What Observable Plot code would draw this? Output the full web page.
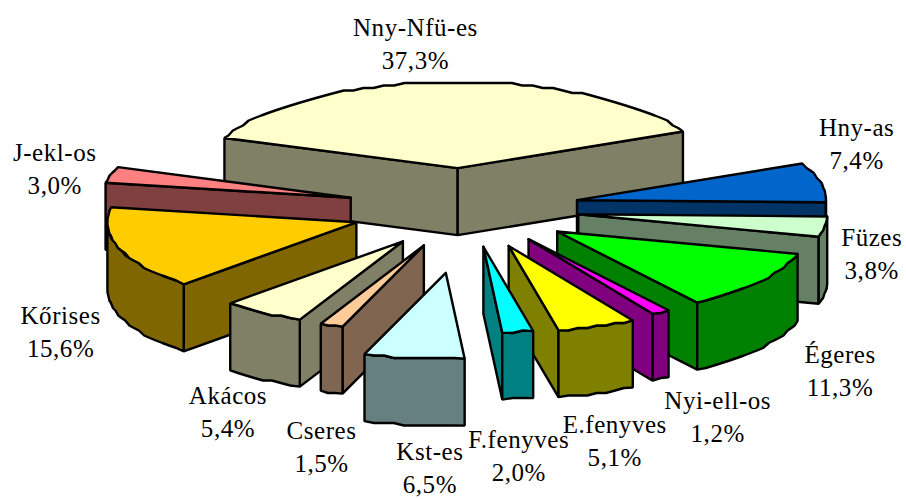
<!DOCTYPE html>
<html><head><meta charset="utf-8">
<style>html,body{margin:0;padding:0;background:#fff}svg{display:block}svg text{letter-spacing:.55px}</style>
<script src="https://cdn.jsdelivr.net/npm/d3@7"></script>
<script src="https://cdn.jsdelivr.net/npm/@observablehq/plot@0.6"></script>
</head><body><div id="chart"></div>
<script>
const names = ["Nny-Nfü-es","Hny-as","Füzes","Égeres","Nyi-ell-os","E.fenyves","F.fenyves","Kst-es","Cseres","Akácos","Kőrises","J-ekl-os"];
const shares = [37.3,7.4,3.8,11.3,1.2,5.1,2.0,6.5,1.5,5.4,15.6,3.0];
const topColors = ["#FFFFCC","#0066CC","#CCFFCC","#00FF00","#FF00FF","#FFFF00","#00FFFF","#CCFFFF","#FFCC99","#FFFFCC","#FFCC00","#FF8080"];
const sideColors = ["#808066","#003366","#668066","#008000","#800080","#808000","#008080","#668080","#806650","#808066","#806600","#804040"];
const explode = [117,117,117,115,115,122,115,185,115,115,120,117];
const drift = [[-1,0],[-1,0],[-1,0],[0,0],[4,-3],[2,-2],[4,-1],[6,1],[3,0],[4,0],[7,1],[0,0]];
const drawOrder = [0,1,11,2,10,3,9,4,8,5,7,6];
// label centre relative to the middle of each slice's outer arc
const labelNudge = [[-32,-40],[36,-40],[47,25],[80,88],[57,103],[18,113],[1,122],[16,108],[-10,120],[-35,97],[-59,81],[-56,-8]];

const W = 906, H = 499, cx = 463, cy = 208, rx = 249, ry = 86, depth = 67, startAngle = -69.5;
const rad = d => d * Math.PI / 180;
const snap = v => Math.round(v / 2.5) * 2.5;
const faces = [], labels = [];
let acc = startAngle;
const spans = shares.map(v => { const s = acc; acc += v * 3.6; return [s, acc]; });
drawOrder.forEach(i => {
  const [s, e] = spans[i], m = (s + e) / 2;
  const ox = cx + explode[i] * Math.sin(rad(m)) + drift[i][0];
  const oy = cy - explode[i] * Math.cos(rad(m)) * ry / rx + drift[i][1];
  const pt = (a, dz = 0) => ({x: ox + rx * Math.sin(rad(a)), y: oy - ry * Math.cos(rad(a)) + dz});
  const arc = (a0, a1, dz = 0) => {
    const n = Math.max(1, Math.ceil((a1 - a0) / 2.5));
    return d3.range(n + 1).map(k => {
      const p = pt(a0 + (a1 - a0) * k / n, dz);
      return k === 0 || k === n ? p : {x: p.x, y: snap(p.y)};
    });
  };
  const add = (poly, fill, key) => [...poly, poly[0]].forEach(p => faces.push({...p, fill, key: i + key}));
  const apex = {x: ox, y: oy}, apexLow = {x: ox, y: oy + depth};
  if (Math.sin(rad(s)) < 0) add([apex, pt(s), pt(s, depth), apexLow], sideColors[i], "s");
  if (Math.sin(rad(e)) > 0) add([apex, pt(e), pt(e, depth), apexLow], sideColors[i], "e");
  const a0 = Math.max(s, 90), a1 = Math.min(e, 270);
  if (a1 > a0) add([...arc(a0, a1), ...arc(a0, a1, depth).reverse()], sideColors[i], "o");
  add([apex, ...arc(s, e)], topColors[i], "t");
  const mid = pt(m);
  labels.push({x: mid.x + labelNudge[i][0], y: mid.y + labelNudge[i][1],
    text: names[i] + "\n" + shares[i].toFixed(1).replace(".", ",") + "%"});
});

const chart = Plot.plot({
  width: W, height: H, margin: 0,
  style: {background: "#fff"},
  x: {domain: [0, W], range: [0, W], axis: null},
  y: {domain: [0, H], range: [0, H], axis: null},
  color: {type: "identity"},
  marks: [
    Plot.line(faces, {x: "x", y: "y", z: "key", fill: "fill", stroke: "#000", strokeWidth: 2.4, strokeLinejoin: "miter", curve: "linear"}),
    Plot.text(labels, {x: "x", y: "y", text: "text", fontFamily: "Liberation Serif", fontSize: 25, lineHeight: 1.32, fill: "#000", textAnchor: "middle"})
  ]
});
document.getElementById("chart").append(chart);
</script></body></html>
